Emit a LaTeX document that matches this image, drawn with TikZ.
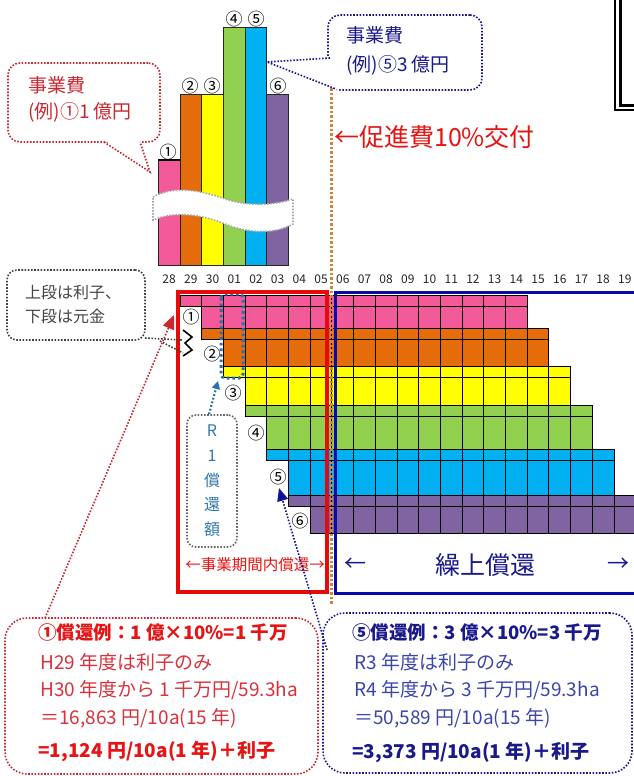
\documentclass[tikz,border=0pt]{standalone}
\usepackage{fontspec}
\setmainfont{Noto Sans CJK JP}
\usetikzlibrary{arrows.meta}
\definecolor{pinkc}{RGB}{243,90,154}
\definecolor{orangec}{RGB}{228,108,10}
\definecolor{yellowc}{RGB}{255,255,0}
\definecolor{greenc}{RGB}{146,208,80}
\definecolor{bluec}{RGB}{0,176,240}
\definecolor{purplec}{RGB}{128,100,162}
\definecolor{redbox}{RGB}{232,10,10}
\definecolor{navyline}{RGB}{10,10,170}
\definecolor{navytext}{RGB}{25,25,140}
\definecolor{bluelight}{RGB}{60,70,170}
\definecolor{calred}{RGB}{200,40,50}
\definecolor{redlight}{RGB}{215,50,60}
\definecolor{brightred}{RGB}{230,20,20}
\definecolor{dotorange}{RGB}{205,135,60}
\definecolor{steel}{RGB}{40,110,180}
\definecolor{rtext}{RGB}{50,120,170}
\definecolor{graytext}{RGB}{70,70,70}
\begin{document}
\begin{tikzpicture}[x=1pt,y=-1pt,
  declare function={cx(\j)=158.3+21.7*\j;},
  fs/.style={font=\fontsize{#1}{#1}\selectfont},
  bfs/.style={font=\fontsize{#1}{#1}\selectfont\bfseries},
  yearlab/.style={inner sep=0, fs=12, text=black!85},
  cnum/.style={inner sep=0, fs=17},
  cell/.style={draw=black, line width=1},
  bar/.style={draw=black!85, line width=0.8},
  dotline/.style={line width=1.6, dash pattern=on 1.6pt off 1.6pt},
  txt/.style={inner sep=0, anchor=west},
]
\useasboundingbox (0,0) rectangle (634,776);
\fill[white] (0,0) rectangle (634,776);

% top-right double frame
\draw[line width=2] (615,-5) -- (615,110) -- (640,110);
\draw[line width=3] (620,-5) -- (620,105) -- (640,105);

% top bars
\foreach \k/\tp/\col in {0/160/pinkc,1/94/orangec,2/94/yellowc,3/27/greenc,4/27/bluec,5/94/purplec}
  \draw[bar,fill=\col] ({cx(\k)},265) rectangle ({cx(\k+1)},\tp);
\draw[line width=1.6] ({cx(0)},160) -- ({cx(1)},160);
\node[cnum] (t1) at (168,152) {①};
\node[cnum] (t2) at (190,86) {②};
\node[cnum] (t3) at (212,86) {③};
\node[cnum] (t4) at (234,19) {④};
\node[cnum] (t5) at (256,19) {⑤};
\node[cnum] (t6) at (278,86) {⑥};

% wavy break
\path[fill=white] (153,197) .. controls (170,187) and (195,188) .. (225,199) .. controls (250,207) and (275,205) .. (293,199) -- (293,224) .. controls (275,234) and (250,234) .. (225,224) .. controls (200,214) and (175,211) .. (153,220) -- cycle;
\draw[gray!70, line width=1.6, dash pattern=on 1.5pt off 1.5pt] (153,197) .. controls (170,187) and (195,188) .. (225,199) .. controls (250,207) and (275,205) .. (293,199) -- (293,224) .. controls (275,234) and (250,234) .. (225,224) .. controls (200,214) and (175,211) .. (153,220) -- cycle;

% year labels
\foreach \lab [count=\j from 0] in {28,29,30,01,02,03,04,05,06,07,08,09,10,11,12,13,14,15,16,17,18,19}
  \node[yearlab] (yr\j) at ({cx(\j)+10.85},279) {\lab};

% grid
\foreach \k/\ya/\yb/\yc/\col/\e in {0/295/306/328/pinkc/17,1/328/339/366/orangec/18,2/366/377/405/yellowc/19,3/405/416/449/greenc/20,4/449/460/495/bluec/21,5/495/506/533/purplec/22}{
  \pgfmathtruncatemacro{\s}{\k+1}
  \pgfmathtruncatemacro{\t}{\k+2}
  \pgfmathtruncatemacro{\f}{\e-1}
  \foreach \j in {\s,...,\f} \draw[cell,fill=\col] ({cx(\j)},\ya) rectangle ({cx(\j+1)},\yb);
  \foreach \j in {\t,...,\f} \draw[cell,fill=\col] ({cx(\j)},\yb) rectangle ({cx(\j+1)},\yc);
}
\node[cnum] (g1) at (191,317) {①};
\node[cnum] (g2) at (212,354) {②};
\node[cnum] (g3) at (233,393) {③};
\node[cnum] (g4) at (256,433) {④};
\node[cnum] (g5) at (278,477) {⑤};
\node[cnum] (g6) at (300,521) {⑥};

% R1 highlight on column 01
\draw[steel, line width=3, dash pattern=on 2.6pt off 3pt, rounded corners=4] (221,294) rectangle (243,378);

% frames
\draw[redbox, line width=3.5] (178,292) rectangle (327,592);
\draw[navyline, line width=3] (645,292) -- (335,292) -- (335,593) -- (645,593);
\draw[dotorange, line width=3, dash pattern=on 2.5pt off 2pt] (331,88) -- (331,604);

\node[fs=15.5, text=brightred, inner sep=0] (inner) at (255,565) {←事業期間内償還→};
\node[fs=22, text=navytext, inner sep=0] (la) at (355,565) {←};
\node[fs=25, text=navytext, inner sep=0] (kuri) at (485,565) {繰上償還};
\node[fs=22, text=navytext, inner sep=0] (ra) at (618,565) {→};

% R1 box
\node[draw=black!60, dotline, rounded corners=9, minimum width=50, minimum height=132, inner sep=0, align=center, text=rtext, font=\fontsize{16}{24.75}\selectfont] (r1) at (212,481) {R\\1\\償\\還\\額};
\coordinate (r1tip) at (218,381);
\draw[steel, line width=2.2, dash pattern=on 1.8pt off 2pt, -{Triangle[length=8,width=8]}] (r1.north) ++(-3,0) -- (r1tip);

% left callout (project cost 1)
\node[draw=calred, dotline, rounded corners=12, minimum width=152, minimum height=79, inner sep=0] (c1) at (84,102.5) {};
\fill[white] (103,139) -- (150,172) -- (141,139) -- cycle;
\draw[calred, dotline] (104,142) -- (150,172) -- (140,142);
\node[txt, fs=19, text=calred] (c1a) at (28,85) {事業費};
\node[txt, fs=19, text=calred] (c1b) at (28,112) {(例)①1 億円};

% right callout (project cost 5)
\node[draw=navytext, dotline, rounded corners=12, minimum width=154, minimum height=75, inner sep=0] (c5) at (405,52.5) {};
\fill[white] (331,57) -- (267,62) -- (338,90) -- cycle;
\draw[navytext, dotline] (330,58) -- (267,62) -- (336,89);
\node[txt, fs=19, text=navytext] (c5a) at (346,35) {事業費};
\node[txt, fs=19, text=navytext] (c5b) at (346,65) {(例)⑤3 億円};

\node[txt, fs=25, text=brightred] (prom) at (334,137) {←促進費10\%交付};

% note callout
\node[draw=black!75, dotline, rounded corners=10, minimum width=138, minimum height=70, inner sep=0] (note) at (76,305) {};
\node[txt, fs=16, text=graytext] (n1) at (25,292) {上段は利子、};
\node[txt, fs=16, text=graytext] (n2) at (25,316) {下段は元金};
\draw[black!75, dotline] (145,338) -- (182,340);
\draw[black!75, dotline] (160,341) -- (183,353);
\draw[black, line width=1.6] (183,330) -- (192,337) -- (185,343) -- (192,350) -- (183,356);

% bottom callouts
\node[draw=calred, dotline, rounded corners=22, minimum width=313, minimum height=156, inner sep=0] (b1) at (161.5,696) {};
\node[txt, bfs=18.5, text=brightred] (b1a) at (38,632) {①償還例：1 億×10\%=1 千万};
\node[txt, fs=19, text=redlight] (b1b) at (40,662) {H29 年度は利子のみ};
\node[txt, fs=19, text=redlight] (b1c) at (40,690) {H30 年度から 1 千万円/59.3ha};
\node[txt, fs=19, text=redlight] (b1d) at (40,718) {＝16,863 円/10a(15 年)};
\node[txt, bfs=19, text=brightred] (b1e) at (38,751) {=1,124 円/10a(1 年)＋利子};

\node[draw=navytext, dotline, rounded corners=22, minimum width=309, minimum height=160, inner sep=0] (b5) at (477.5,693) {};
\node[txt, bfs=18.5, text=navytext] (b5a) at (352,632) {⑤償還例：3 億×10\%=3 千万};
\node[txt, fs=19, text=bluelight] (b5b) at (354,662) {R3 年度は利子のみ};
\node[txt, fs=19, text=bluelight] (b5c) at (354,690) {R4 年度から 3 千万円/59.3ha};
\node[txt, fs=19, text=bluelight] (b5d) at (354,718) {＝50,589 円/10a(15 年)};
\node[txt, bfs=19, text=navytext] (b5e) at (352,752) {=3,373 円/10a(1 年)＋利子};

% pointers from bottom callouts
\coordinate (b1p) at (45,618);
\coordinate (redtip) at (174,315);
\draw[calred, dotline, -{Triangle[length=14,width=12]}] (b1p) -- (redtip);
\coordinate (b5p) at (327,650);
\coordinate (b5tip) at (279,488);
\draw[navytext, dotline, -{Triangle[length=13,width=11,fill=navyline]}] (b5p) -- (b5tip);
\end{tikzpicture}
\end{document}
